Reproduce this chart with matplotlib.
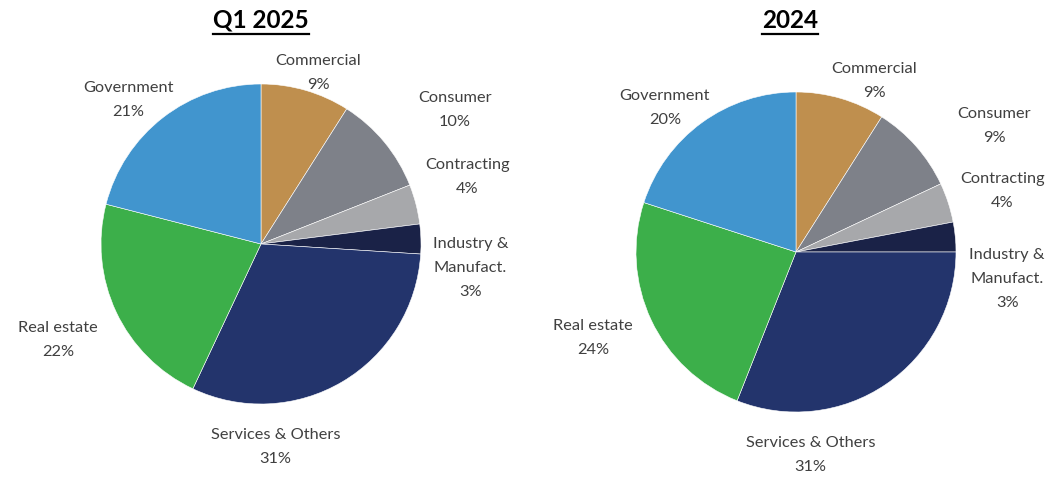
import matplotlib.pyplot as plt
from matplotlib.lines import Line2D

plt.rcParams['font.family'] = ['Lato', 'DejaVu Sans']

sectors = ['Commercial', 'Consumer', 'Contracting', 'Industry &\nManufact.',
           'Services & Others', 'Real estate', 'Government']
q1_2025 = [9, 10, 4, 3, 31, 22, 21]
fy_2024 = [9, 9, 4, 3, 31, 24, 20]
titles = ['Q1 2025', '2024']

colors = ['#BF8F4E', '#7E8189', '#A7A8AB', '#1A2247', '#23346C', '#3CAF4A', '#4195CE']
txt_color = '#404040'

# label positions (in pie radius units, relative to pie centre)
pos_2025 = [(0.36, 1.07), (1.21, 0.84), (1.29, 0.42), (1.31, -0.15),
            (0.09, -1.27), (-1.27, -0.60), (-0.83, 0.90)]
pos_2024 = [(0.49, 1.07), (1.24, 0.79), (1.29, 0.38), (1.32, -0.17),
            (0.09, -1.27), (-1.27, -0.54), (-0.82, 0.90)]

W, H = 1062, 478
fig = plt.figure(figsize=(W / 100, H / 100), dpi=100)

axes_px = [(101, 74), (636, 66)]  # left, bottom of each pie box (px)
R = 160

for k, (vals, pos, title) in enumerate(zip([q1_2025, fy_2024], [pos_2025, pos_2024], titles)):
    l, b = axes_px[k]
    ax = fig.add_axes([l / W, b / H, 2 * R / W, 2 * R / H])
    ax.pie(vals, colors=colors, startangle=90, counterclock=False,
           wedgeprops=dict(edgecolor='white', linewidth=0.4))
    ax.set_xlim(-1, 1)
    ax.set_ylim(-1, 1)
    ax.set_aspect('equal')
    for name, v, (x, y) in zip(sectors, vals, pos):
        ax.text(x, y, f'{name}\n{v}%', ha='center', va='center', fontsize=11.8,
                color=txt_color, linespacing=1.9, clip_on=False)

# titles with underline
title_x = [261, 790]
fig.canvas.draw()
r = fig.canvas.get_renderer()
for t, x in zip(titles, title_x):
    tx = fig.text(x / W, 1 - 20 / H, t, ha='center', va='center', fontsize=17.5,
                  fontweight='bold', color='black')
    bb = tx.get_window_extent(renderer=r)
    y_line = (bb.y0 - 2) / H
    fig.add_artist(Line2D([bb.x0 / W, bb.x1 / W], [y_line, y_line],
                          color='black', linewidth=1.6, transform=fig.transFigure))

fig.savefig('out.png', dpi=100)
